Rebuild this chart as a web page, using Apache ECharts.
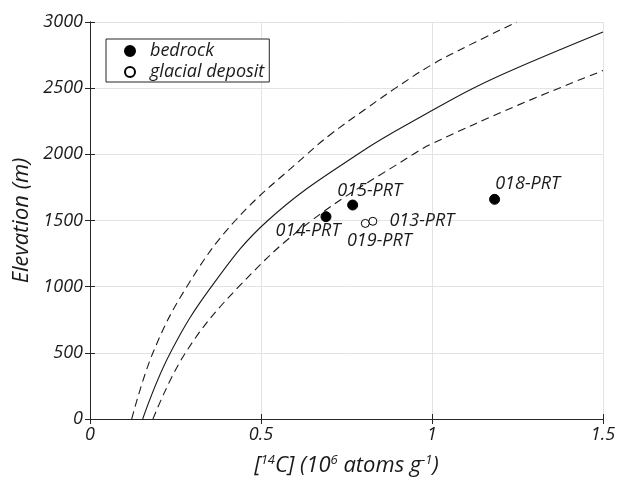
<!DOCTYPE html>
<html>
<head>
<meta charset="utf-8">
<script src="https://cdn.jsdelivr.net/npm/echarts@6/dist/echarts.min.js"></script>
<style>
html,body{margin:0;padding:0;background:#fff;}
#chart{width:619px;height:483px;}
</style>
</head>
<body>
<div id="chart"></div>
<script>
// ---- data ----
const solidCurve = [[0.154,0],[0.235,500],[0.355,1000],[0.52,1500],[0.785,2005],[1.0,2331],[1.122,2502],[1.25,2655],[1.5,2925]];
const upperCurve = [[0.122,0],[0.184,500],[0.283,1000],[0.425,1500],[0.634,2000],[0.703,2150],[0.81,2350],[0.893,2500],[1.0,2678],[1.112,2829],[1.248,3000]];
const lowerCurve = [[0.184,0],[0.279,500],[0.435,1000],[0.648,1500],[0.945,2000],[1.0,2080],[1.25,2370],[1.5,2633]];

const bedrockNames = ['014-PRT','015-PRT','018-PRT'];
const bedrockX = [0.690, 0.768, 1.183];
const bedrockY = [1529, 1617, 1660];

const glacialNames = ['019-PRT','013-PRT'];
const glacialX = [0.805, 0.827];
const glacialY = [1478, 1494];

const xTickLabels = ['0','0.5','1','1.5'];
const yTickLabels = ['0','500','1000','1500','2000','2500','3000'];

// ---- style / placement ----
const FONT = 'Open Sans';
const TXT = '#1a1a1a';
const labelOffsets = {
  '014-PRT': [-18, 14],
  '015-PRT': [17, -14],
  '018-PRT': [33, -15],
  '019-PRT': [14, 17],
  '013-PRT': [49, 0]
};

function pts(names, xs, ys) {
  return names.map((n, i) => ({
    name: n,
    value: [xs[i], ys[i]],
    label: {
      show: true, formatter: n, position: 'inside', offset: labelOffsets[n],
      color: TXT, fontFamily: FONT, fontStyle: 'italic', fontSize: 18
    }
  }));
}

const chart = echarts.init(document.getElementById('chart'), null, {renderer: 'canvas'});
const axisLineStyle = {color: '#262626', width: 1};
const option = {
  animation: false,
  backgroundColor: '#fff',
  grid: {left: 90, right: 16, top: 22, bottom: 64, containLabel: false},
  legend: {
    left: 106, top: 39,
    orient: 'vertical',
    data: ['bedrock', 'glacial deposit'],
    itemWidth: 10, itemHeight: 10, itemGap: 3,
    padding: [3, 5, 1, 18],
    borderColor: '#262626', borderWidth: 1,
    backgroundColor: '#fff',
    textStyle: {fontFamily: FONT, fontStyle: 'italic', fontSize: 18, color: TXT, lineHeight: 18, padding: [0, 0, 0, 10]}
  },
  xAxis: [{
    type: 'value', min: 0, max: 1.5, interval: 0.5, position: 'bottom',
    axisLine: {show: true, lineStyle: axisLineStyle},
    axisTick: {show: true, inside: true, length: 5, lineStyle: axisLineStyle},
    axisLabel: {color: TXT, fontFamily: FONT, fontStyle: 'italic', fontSize: 18, margin: 7,
      formatter: (v) => xTickLabels[Math.round(v / 0.5)]},
    splitLine: {show: true, lineStyle: {color: '#e3e3e3', width: 1}},
    name: '[{sup|14}C] (10{sup|6} atoms g{sup|-1})',
    nameLocation: 'middle', nameGap: 35,
    nameTextStyle: {color: TXT, fontFamily: FONT, fontStyle: 'italic', fontSize: 22, lineHeight: 24,
      rich: {sup: {fontFamily: FONT, fontStyle: 'italic', fontSize: 13, lineHeight: 13, verticalAlign: 'top', color: TXT}}}
  }, {
    type: 'value', min: 0, max: 1.5, interval: 0.5, position: 'top',
    axisLine: {show: true, lineStyle: axisLineStyle},
    axisTick: {show: true, inside: true, length: 5, lineStyle: axisLineStyle},
    axisLabel: {show: false}, splitLine: {show: false}
  }],
  yAxis: [{
    type: 'value', min: 0, max: 3000, interval: 500, position: 'left',
    axisLine: {show: true, lineStyle: axisLineStyle},
    axisTick: {show: true, inside: true, length: 5, lineStyle: axisLineStyle},
    axisLabel: {color: TXT, fontFamily: FONT, fontStyle: 'italic', fontSize: 18, margin: 7,
      formatter: (v) => yTickLabels[Math.round(v / 500)]},
    splitLine: {show: true, lineStyle: {color: '#e3e3e3', width: 1}},
    name: 'Elevation (m)', nameLocation: 'middle', nameGap: 55,
    nameTextStyle: {color: TXT, fontFamily: FONT, fontStyle: 'italic', fontSize: 22}
  }, {
    type: 'value', min: 0, max: 3000, interval: 500, position: 'right',
    axisLine: {show: true, lineStyle: axisLineStyle},
    axisTick: {show: true, inside: true, length: 5, lineStyle: axisLineStyle},
    axisLabel: {show: false}, splitLine: {show: false}
  }],
  series: [
    {type: 'line', name: 'model', data: solidCurve, symbol: 'none', smooth: 0.4,
      lineStyle: {color: '#1a1a1a', width: 1.1}, silent: true, z: 2},
    {type: 'line', name: 'upper', data: upperCurve, symbol: 'none', smooth: 0.4,
      lineStyle: {color: '#1a1a1a', width: 1.1, type: [8, 5]}, silent: true, z: 2},
    {type: 'line', name: 'lower', data: lowerCurve, symbol: 'none', smooth: 0.4,
      lineStyle: {color: '#1a1a1a', width: 1.1, type: [8, 5]}, silent: true, z: 2},
    {type: 'scatter', name: 'bedrock', data: pts(bedrockNames, bedrockX, bedrockY),
      symbol: 'circle', symbolSize: 10, itemStyle: {color: '#000', borderColor: '#000', borderWidth: 1, opacity: 1}, z: 5},
    {type: 'scatter', name: 'glacial deposit', data: pts(glacialNames, glacialX, glacialY),
      symbol: 'circle', symbolSize: 8, itemStyle: {color: '#fff', borderColor: '#000', borderWidth: 1, opacity: 1}, z: 5}
  ]
};
chart.setOption(option);
</script>
</body>
</html>
